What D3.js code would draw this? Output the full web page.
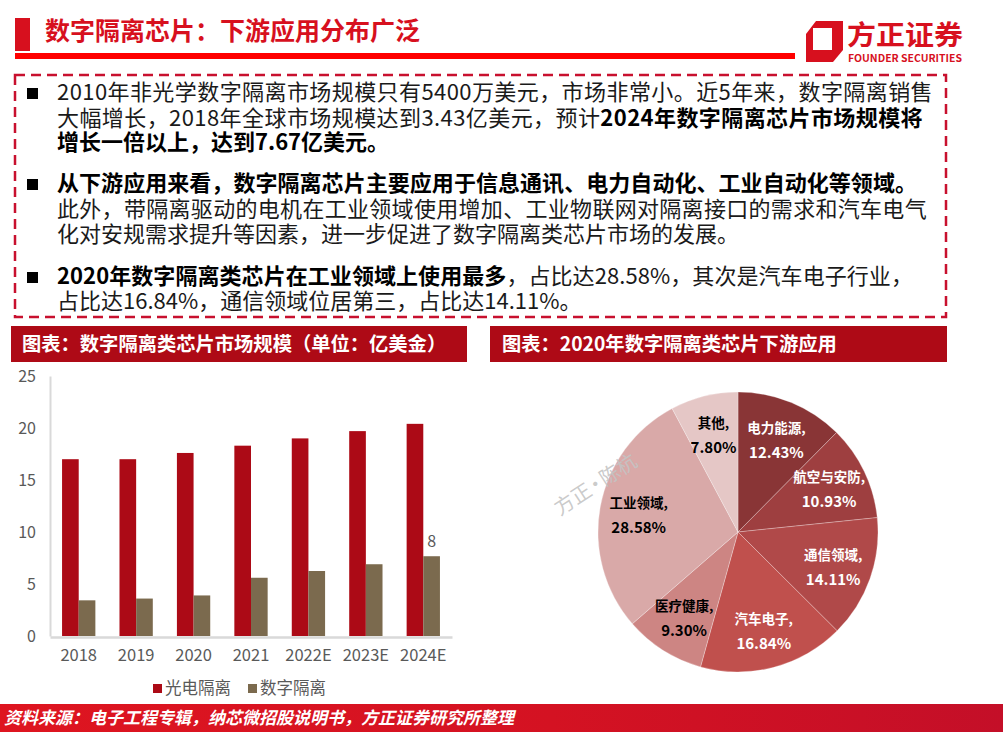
<!DOCTYPE html>
<html>
<head>
<meta charset="utf-8">
<script src="https://cdn.jsdelivr.net/npm/d3@7"></script>
<style>
  body { margin: 0; background: #fff; }
  svg { display: block; }
  text { font-family: "Noto Sans CJK SC", "Noto Sans", sans-serif; }
</style>
</head>
<body>
<script>
// ---- data ----
var years = ["2018", "2019", "2020", "2021", "2022E", "2023E", "2024E"];
var opticalIso = [17.0, 17.0, 17.6, 18.3, 19.0, 19.7, 20.4];   // 光电隔离
var digitalIso = [3.43, 3.6, 3.9, 5.6, 6.25, 6.9, 7.67];       // 数字隔离
var seriesNames = ["光电隔离", "数字隔离"];
var yTicks = [0, 5, 10, 15, 20, 25];

var pieLabels = ["电力能源", "航空与安防", "通信领域", "汽车电子", "医疗健康", "工业领域", "其他"];
var pieValues = [12.43, 10.93, 14.11, 16.84, 9.30, 28.58, 7.80];

var pageTitle = "数字隔离芯片：下游应用分布广泛";
var barTitle = "图表：数字隔离类芯片市场规模（单位：亿美金）";
var pieTitle = "图表：2020年数字隔离类芯片下游应用";
var sourceNote = "资料来源：电子工程专辑，纳芯微招股说明书，方正证券研究所整理";
var watermark = ["方正", "·", "陈杭"];

// text box lines: [text, bold] segments
var textLines = [
  [["2010年非光学数字隔离市场规模只有5400万美元，市场非常小。近5年来，数字隔离销售", 0]],
  [["大幅增长，2018年全球市场规模达到3.43亿美元，预计", 0], ["2024年数字隔离芯片市场规模将", 1]],
  [["增长一倍以上，达到7.67亿美元。", 1]],
  [["从下游应用来看，数字隔离芯片主要应用于信息通讯、电力自动化、工业自动化等领域。", 1]],
  [["此外，带隔离驱动的电机在工业领域使用增加、工业物联网对隔离接口的需求和汽车电气", 0]],
  [["化对安规需求提升等因素，进一步促进了数字隔离类芯片市场的发展。", 0]],
  [["2020年数字隔离类芯片在工业领域上使用最多", 1], ["，占比达28.58%，其次是汽车电子行业，", 0]],
  [["占比达16.84%，通信领域位居第三，占比达14.11%。", 0]]
];

// ---- layout ----
var lineY = [100, 126, 150, 191, 217, 242, 284, 309];
var lineEnd = [933, 923, null, 917, 927, null, 913, null];
var bulletLines = [0, 3, 6];

var red = "#D7101E";
var darkRed = "#AE0A16";

var svg = d3.select("body").append("svg")
    .attr("width", 1003)
    .attr("height", 732);

// header
svg.append("rect").attr("x", 15).attr("y", 18).attr("width", 15).attr("height", 33).attr("fill", red);
svg.append("text")
    .attr("x", 45).attr("y", 40)
    .attr("font-size", 25).attr("font-weight", 700).attr("fill", red)
    .text(pageTitle);
svg.append("rect").attr("x", 15).attr("y", 53).attr("width", 780).attr("height", 6).attr("fill", "#FF0000");

// logo
var logo = svg.append("g");
logo.append("path")
    .attr("d", "M816,21 L843,21 L843,50 L833,62 L806,62 L806,34 Z")
    .attr("fill", red);
logo.append("rect").attr("x", 813).attr("y", 28).attr("width", 19).attr("height", 22).attr("fill", "#fff");
logo.append("text")
    .attr("x", 847).attr("y", 45)
    .attr("font-size", 27).attr("font-weight", 700).attr("fill", red)
    .attr("textLength", 116).attr("lengthAdjust", "spacingAndGlyphs")
    .text("方正证券");
logo.append("text")
    .attr("x", 848).attr("y", 62)
    .attr("font-family", "Open Sans, sans-serif")
    .attr("font-size", 10.5).attr("font-weight", 700).attr("fill", red)
    .attr("textLength", 114).attr("lengthAdjust", "spacingAndGlyphs")
    .text("FOUNDER SECURITIES");

// dashed text box
svg.append("rect")
    .attr("x", 15).attr("y", 75).attr("width", 931).attr("height", 242)
    .attr("fill", "none").attr("stroke", "#C8102E").attr("stroke-width", 2.5)
    .attr("stroke-dasharray", "10,6");

bulletLines.forEach(function(i){
    svg.append("rect")
        .attr("x", 27).attr("y", lineY[i] - 12).attr("width", 11).attr("height", 11)
        .attr("fill", "#000");
});

// each segment is its own text element, placed one after another
textLines.forEach(function(segs, i){
    var nodes = segs.map(function(s){
        return svg.append("text")
            .attr("y", lineY[i])
            .attr("font-size", 22)
            .attr("font-weight", s[1] ? 700 : 400)
            .attr("fill", s[1] ? "#000" : "#1a1a1a")
            .text(s[0]);
    });
    var ls = 0;
    if (lineEnd[i]) {
        var n = segs.reduce(function(a, s){ return a + s[0].length; }, 0);
        var len = d3.sum(nodes, function(t){ return t.node().getComputedTextLength(); });
        ls = (lineEnd[i] - 57 - len) / n;
    }
    var cur = 57;
    nodes.forEach(function(t){
        t.attr("letter-spacing", ls).attr("x", cur);
        cur += t.node().getComputedTextLength();
    });
});

// ---- chart title bars ----
svg.append("rect").attr("x", 11).attr("y", 326).attr("width", 456).attr("height", 36).attr("fill", darkRed);
svg.append("text").attr("x", 22).attr("y", 351)
    .attr("font-size", 19.3).attr("font-weight", 700).attr("fill", "#fff")
    .text(barTitle);
svg.append("rect").attr("x", 490).attr("y", 326).attr("width", 457).attr("height", 36).attr("fill", darkRed);
svg.append("text").attr("x", 502).attr("y", 351)
    .attr("font-size", 19.3).attr("font-weight", 700).attr("fill", "#fff")
    .text(pieTitle);

// ---- bar chart ----
var x = d3.scaleBand()
    .domain(years)
    .range([50, 452])
    .paddingInner(0.42)
    .paddingOuter(0.21);

var xInner = d3.scaleBand()
    .domain(seriesNames)
    .range([0, x.bandwidth()]);

var y = d3.scaleLinear()
    .domain([0, 25])
    .range([636, 376]);

var barColor = d3.scaleOrdinal()
    .domain(seriesNames)
    .range(["#AC0A16", "#7B6A4E"]);

var barData = years.map(function(yr, i){
    return { year: yr, values: [
        { key: seriesNames[0], value: opticalIso[i] },
        { key: seriesNames[1], value: digitalIso[i] }
    ]};
});

var yAxis = svg.append("g")
    .attr("transform", "translate(50,0)")
    .call(d3.axisLeft(y).tickValues(yTicks).tickSize(0).tickPadding(14));
yAxis.select(".domain").attr("stroke", "#D9D9D9").attr("stroke-width", 2);
yAxis.selectAll("text")
    .attr("font-family", "Liberation Sans, Arial, sans-serif")
    .attr("font-size", 16).attr("fill", "#595959");

var groups = svg.selectAll(".year")
    .data(barData)
    .enter().append("g")
    .attr("class", "year")
    .attr("transform", function(d){ return "translate(" + x(d.year) + ",0)"; });

groups.selectAll("rect")
    .data(function(d){ return d.values; })
    .enter().append("rect")
    .attr("x", function(d){ return xInner(d.key); })
    .attr("y", function(d){ return y(d.value); })
    .attr("width", xInner.bandwidth())
    .attr("height", function(d){ return y(0) - y(d.value); })
    .attr("fill", function(d){ return barColor(d.key); });

var xAxis = svg.append("g")
    .attr("transform", "translate(0,637)")
    .call(d3.axisBottom(x).tickSize(0).tickPadding(12));
xAxis.select(".domain").attr("stroke", "#D9D9D9").attr("stroke-width", 2.5);
xAxis.selectAll("text")
    .attr("font-family", "Liberation Sans, Arial, sans-serif")
    .attr("font-size", 16.5).attr("fill", "#595959");

// data label on the last digital bar
var last = years.length - 1;
svg.append("text")
    .attr("x", x(years[last]) + xInner(seriesNames[1]) + xInner.bandwidth() / 2)
    .attr("y", y(digitalIso[last]) - 9)
    .attr("text-anchor", "middle")
    .attr("font-family", "Liberation Sans, Arial, sans-serif")
    .attr("font-size", 16).attr("fill", "#595959")
    .text(d3.format(".0f")(digitalIso[last]));

// legend
var legendX = [153, 248];
seriesNames.forEach(function(name, i){
    svg.append("rect")
        .attr("x", legendX[i]).attr("y", 684).attr("width", 9).attr("height", 9)
        .attr("fill", barColor(name));
    svg.append("text")
        .attr("x", legendX[i] + 12).attr("y", 694)
        .attr("font-size", 16.5).attr("fill", "#595959")
        .text(name);
});

// ---- pie chart ----
var pieColors = ["#893536", "#9E3F40", "#B04949", "#C0504D", "#CD8583", "#D9A9A8", "#E5C7C6"];
var labelDark = [false, false, false, false, true, true, true];
var cx = 738, cy = 532, r = 140;

var pie = d3.pie().sort(null).value(function(d){ return d; });
var arcs = pie(pieValues);
var arc = d3.arc().innerRadius(0).outerRadius(r);
var labelArc = d3.arc().innerRadius(101).outerRadius(101);

var pg = svg.append("g").attr("transform", "translate(" + cx + "," + cy + ")");

pg.selectAll("path")
    .data(arcs)
    .enter().append("path")
    .attr("d", arc)
    .attr("fill", function(d, i){ return pieColors[i]; })
    .attr("stroke", "#ffffff").attr("stroke-opacity", 0.35).attr("stroke-width", 0.8);

var lbl = pg.selectAll(".plabel")
    .data(arcs)
    .enter().append("text")
    .attr("class", "plabel")
    .attr("text-anchor", "middle")
    .attr("font-weight", 700)
    .attr("fill", function(d, i){ return labelDark[i] ? "#000" : "#fff"; })
    .attr("transform", function(d){ return "translate(" + labelArc.centroid(d) + ")"; });
lbl.append("tspan")
    .attr("x", 0).attr("y", -6)
    .attr("font-size", 13.5)
    .text(function(d, i){ return pieLabels[i] + ","; });
lbl.append("tspan")
    .attr("x", 0).attr("y", 19)
    .attr("font-size", 15)
    .text(function(d){ return d.value.toFixed(2) + "%"; });

// watermark (on top of the pie, as in the reference)
var wm = svg.append("text")
    .attr("transform", "translate(560,516) rotate(-33)")
    .attr("font-size", 20).attr("fill", "#C4C4C4").attr("fill-opacity", 0.9);
wm.append("tspan").text(watermark[0]);
wm.append("tspan").attr("dx", -3).text(watermark[1]);
wm.append("tspan").attr("dx", -3).text(watermark[2]);

// ---- footer ----
var defs = svg.append("defs");
var grad = defs.append("linearGradient").attr("id", "foot");
grad.append("stop").attr("offset", "0%").attr("stop-color", "#DE1520");
grad.append("stop").attr("offset", "55%").attr("stop-color", "#D41222");
grad.append("stop").attr("offset", "100%").attr("stop-color", "#C40F28");
svg.append("rect").attr("x", 0).attr("y", 704).attr("width", 1003).attr("height", 28).attr("fill", "url(#foot)");
svg.append("text")
    .attr("x", 4).attr("y", 724)
    .attr("font-size", 17).attr("font-weight", 700).attr("font-style", "italic")
    .attr("fill", "#fff")
    .text(sourceNote);
</script>
</body>
</html>
